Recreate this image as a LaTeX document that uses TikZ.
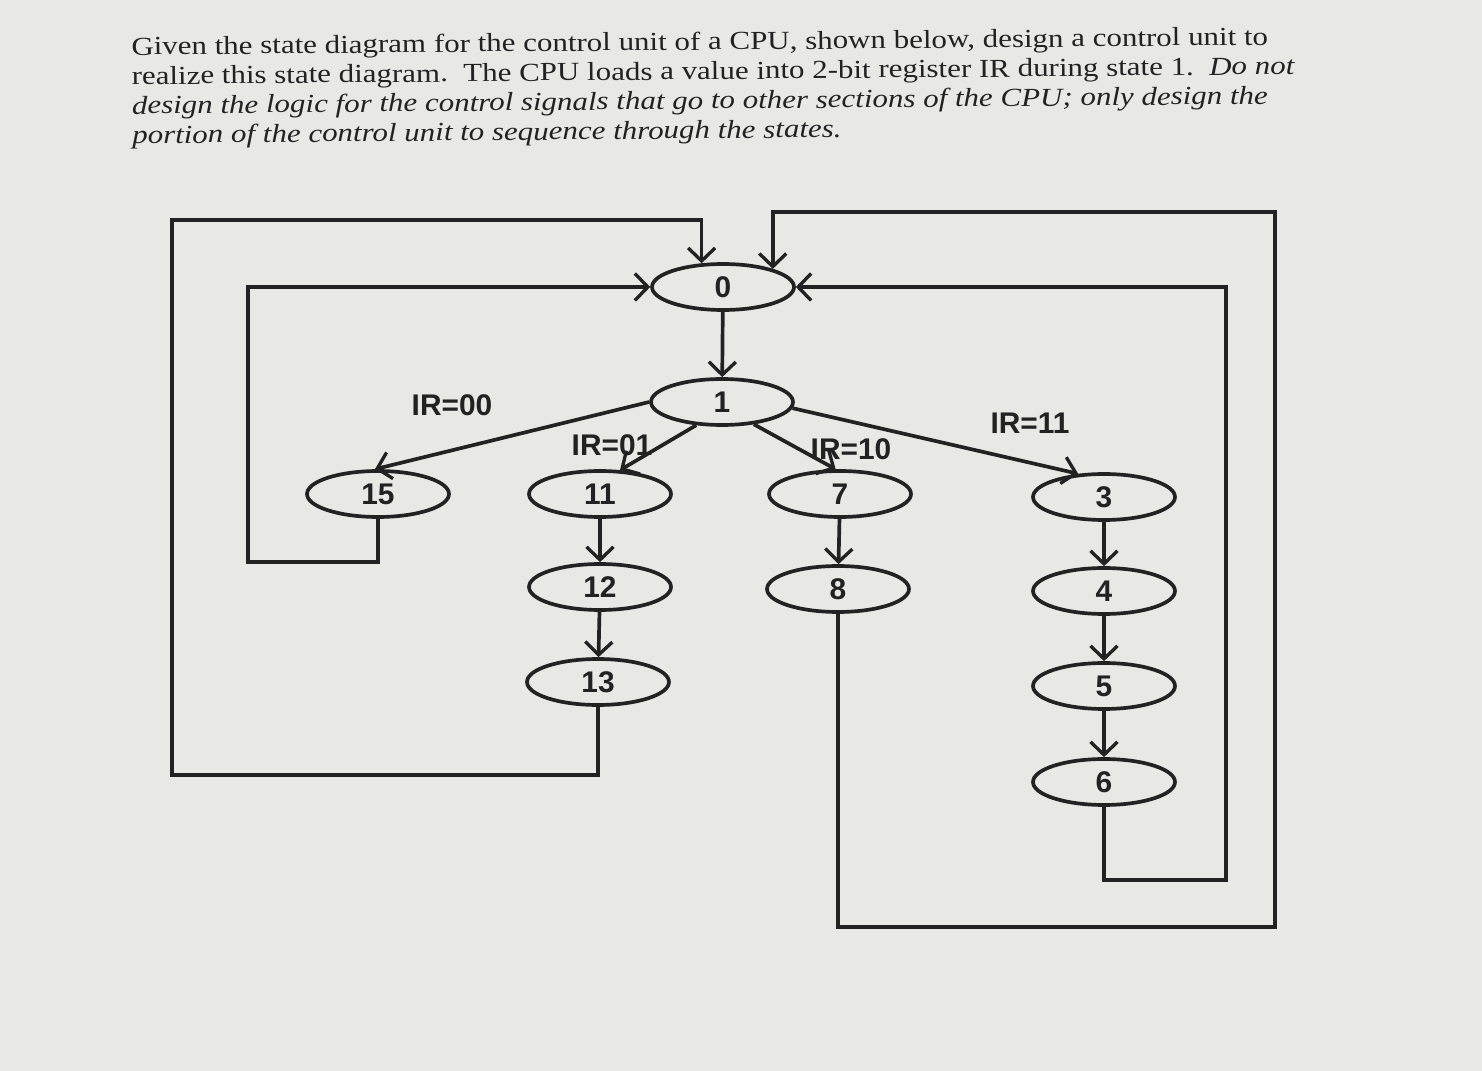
\documentclass[tikz,border=0pt]{standalone}
\usepackage{fontspec}
\setmainfont{Liberation Serif}
\newfontfamily\diagfont{Liberation Sans}
\usetikzlibrary{shapes.geometric,arrows.meta}
\definecolor{ink}{HTML}{222222}
\definecolor{paper}{HTML}{E8E8E5}
\begin{document}
\begin{tikzpicture}[x=0.02cm,y=-0.02cm,
  state/.style={ellipse,draw=ink,line width=2.1pt,minimum width=2.84cm,minimum height=0.92cm,inner sep=0pt,
    font=\diagfont\bfseries\fontsize{17}{18}\selectfont,text=ink},
  arr/.style={draw=ink,line width=2.1pt,-{Straight Barb[length=2.6mm,width=5.4mm,line width=1.9pt]}},
  lbl/.style={font=\diagfont\bfseries\fontsize{17}{18}\selectfont,text=ink,inner sep=0pt},
  para/.style={anchor=north west,inner sep=0pt,font=\fontsize{14.8}{16.8}\selectfont,text=ink,rotate=0.5}
]
\fill[paper] (0,0) rectangle (1482,1071);
\useasboundingbox (0,0) rectangle (1482,1071);

% text
\node[para] (txt) at (131,34) {\scalebox{1.19}[1]{\begin{tabular}{@{}l@{}}
Given the state diagram for the control unit of a CPU, shown below, design a control unit to\\
realize this state diagram.\ \ The CPU loads a value into 2-bit register IR during state 1.\ \ \textit{Do not}\\
\textit{design the logic for the control signals that go to other sections of the CPU; only design the}\\
\textit{portion of the control unit to sequence through the states.}
\end{tabular}}};

% states
\node[state] (n0) at (723,287) {0};
\node[state] (n1) at (722,402) {1};
\node[state] (n15) at (378,494) {15};
\node[state] (n11) at (600,494) {11};
\node[state] (n12) at (600,587) {12};
\node[state] (n13) at (598,682) {13};
\node[state] (n7) at (840,494) {7};
\node[state] (n8) at (838,589) {8};
\node[state] (n3) at (1104,497) {3};
\node[state] (n4) at (1104,591) {4};
\node[state] (n5) at (1104,686) {5};
\node[state] (n6) at (1104,782) {6};

% labels
\node[lbl] (l00) at (452,405) {IR=00};
\node[lbl] (l01) at (612,445) {IR=01};
\node[lbl] (l10) at (851,449) {IR=10};
\node[lbl] (l11) at (1030,423) {IR=11};

% transitions
\draw[arr] (n0) -- (n1);
\draw[arr] (n1.west) -- (n15.97);
\draw[arr] (n1.222) -- (n11.50);
\draw[arr] (n1.-35) -- (n7.100);
\draw[arr] (n1.-5) -- (n3.138);
\draw[arr] (n11) -- (n12);
\draw[arr] (n12) -- (n13);
\draw[arr] (n7) -- (n8);
\draw[arr] (n3) -- (n4);
\draw[arr] (n4) -- (n5);
\draw[arr] (n5) -- (n6);

% return loops
\coordinate (c15) at (248,562);
\draw[arr] (n15.south) |- (c15) |- (n0.west);

\coordinate (c13) at (172,775);
\coordinate (t13) at (n0.132 |- 0,220);
\draw[arr] (n13.south) |- (c13) |- (t13) -- (n0.132);

\coordinate (c8) at (1275,927);
\coordinate (t8) at (n0.20 |- 0,212);
\draw[arr] (n8.south) |- (c8) |- (t8) -- (n0.20);

\coordinate (c6) at (1226,880);
\draw[arr] (n6.south) |- (c6) |- (n0.east);
\end{tikzpicture}
\end{document}
